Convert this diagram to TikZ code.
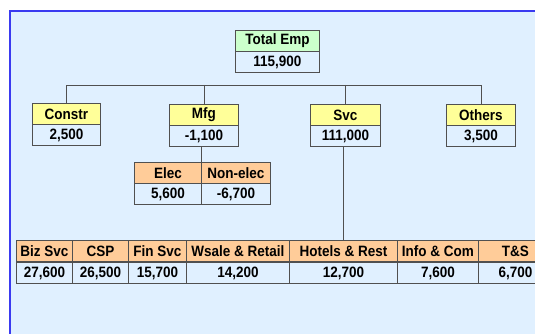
\documentclass[tikz,border=0pt]{standalone}
\usepackage{fontspec}
\setmainfont{Liberation Sans}[FakeStretch=0.9]
\usepackage{xcolor}
\definecolor{bgblue}{HTML}{E0F0FF}
\definecolor{edgeblue}{HTML}{3A3AF0}
\definecolor{hdryellow}{HTML}{FFFF99}
\definecolor{hdrgreen}{HTML}{CCFFCC}
\definecolor{hdrorange}{HTML}{FFCC99}
\definecolor{linegray}{HTML}{505050}

\begin{document}
\begin{tikzpicture}[x=1pt,y=-1pt]
\tikzstyle{cell} = [rectangle, draw=linegray, line width=0.9pt, inner sep=0pt, anchor=north west, font=\bfseries\fontsize{15}{16}\selectfont]
\tikzstyle{hdr} = [cell, minimum height=21pt]
\tikzstyle{val} = [cell, fill=bgblue, minimum height=21pt]
\tikzstyle{link} = [draw=linegray, line width=0.9pt]

\useasboundingbox (0,0) rectangle (535,334);
\fill[bgblue] (10,11) rectangle (535,334);
\draw[edgeblue, line width=1.4pt] (10,334) -- (10,11) -- (535,11);

% top
\node (totalh) [hdr, fill=hdrgreen, minimum width=84pt] at (235,30) {Total Emp};
\node (totalv) [val, minimum width=84pt] at (235,51) {115,900};

% second level
\node (constrh) [hdr, fill=hdryellow, minimum width=68pt] at (32,103) {Constr};
\node (constrv) [val, minimum width=68pt] at (32,124) {2,500};
\node (mfgh) [hdr, fill=hdryellow, minimum width=69pt] at (169,104) {Mfg};
\node (mfgv) [val, minimum width=69pt] at (169,125) {-1,100};
\node (svch) [hdr, fill=hdryellow, minimum width=70pt] at (310,104) {Svc};
\node (svcv) [val, minimum width=70pt] at (310,125) {111,000};
\node (othersh) [hdr, fill=hdryellow, minimum width=69pt] at (446,104) {Others};
\node (othersv) [val, minimum width=69pt] at (446,125) {3,500};

% manufacturing split
\node (elech) [hdr, fill=hdrorange, minimum width=67pt] at (134,162) {Elec};
\node (elecv) [val, minimum width=67pt] at (134,183) {5,600};
\node (nonelech) [hdr, fill=hdrorange, minimum width=69pt] at (201,162) {Non-elec};
\node (nonelecv) [val, minimum width=69pt] at (201,183) {-6,700};

% services split
\node (bizh) [hdr, fill=hdrorange, minimum width=56pt] at (16,240) {Biz Svc};
\node (bizv) [val, minimum width=56pt] at (16,262) {27,600};
\node (csph) [hdr, fill=hdrorange, minimum width=56pt] at (72,240) {CSP};
\node (cspv) [val, minimum width=56pt] at (72,262) {26,500};
\node (finh) [hdr, fill=hdrorange, minimum width=58pt] at (128,240) {Fin Svc};
\node (finv) [val, minimum width=58pt] at (128,262) {15,700};
\node (wsaleh) [hdr, fill=hdrorange, minimum width=103pt] at (186,240) {Wsale \& Retail};
\node (wsalev) [val, minimum width=103pt] at (186,262) {14,200};
\node (hotelh) [hdr, fill=hdrorange, minimum width=108pt] at (289,240) {Hotels \& Rest};
\node (hotelv) [val, minimum width=108pt] at (289,262) {12,700};
\node (infoh) [hdr, fill=hdrorange, minimum width=81pt] at (397,240) {Info \& Com};
\node (infov) [val, minimum width=81pt] at (397,262) {7,600};
\node (tsh) [hdr, fill=hdrorange, minimum width=74pt] at (478,240) {T\&S};
\node (tsv) [val, minimum width=74pt] at (478,262) {6,700};

% connectors
\coordinate (bar) at (0,85);
\draw [link] (constrh.north) -- (constrh.north |- bar) -| (othersh.north);
\draw [link] (mfgh.north |- bar) -- (mfgh.north);
\draw [link] (svch.north |- bar) -- (svch.north);
\draw [link] (elech.north east |- mfgv.south) -- (elech.north east);
\draw [link] (hotelh.north |- svcv.south) -- (hotelh.north);

\end{tikzpicture}
\end{document}
